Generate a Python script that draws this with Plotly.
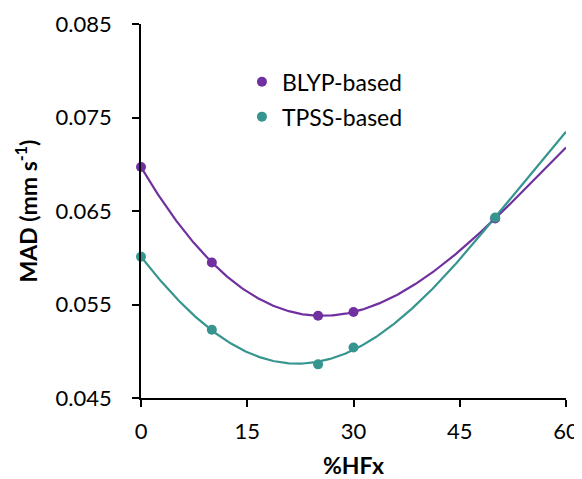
import numpy as np
import plotly.graph_objects as go

hfx = [0, 10, 25, 30, 50]
blyp = [0.0697, 0.0595, 0.0538, 0.0542, 0.0642]
tpss = [0.0601, 0.0523, 0.0486, 0.0504, 0.0643]
# trendline end values at %HFx = 60
trend_end_x = 60
blyp_end = 0.0718
tpss_end = 0.0735
series_names = ["BLYP-based", "TPSS-based"]
x_ticks = [0, 15, 30, 45, 60]
y_ticks = [0.045, 0.055, 0.065, 0.075, 0.085]

colors = ["#7030A0", "#36958F"]
font_family = "Lato"

fig = go.Figure()
xs = np.linspace(0, 60, 300)
for vals, end, col in zip([blyp, tpss], [blyp_end, tpss_end], colors):
    coef = np.polyfit(hfx + [trend_end_x], vals + [end], 4)
    fig.add_trace(go.Scatter(x=xs, y=np.polyval(coef, xs), mode="lines",
                             line=dict(color=col, width=2.2), showlegend=False,
                             hoverinfo="skip"))
for name, vals, col, grp in zip(series_names, [blyp, tpss], colors, ["a", "b"]):
    fig.add_trace(go.Scatter(x=hfx, y=vals, mode="markers", name=name,
                             legendgroup=grp, cliponaxis=False,
                             marker=dict(color=col, size=10)))

axis_common = dict(showline=True, linecolor="black", linewidth=1.5, ticks="outside",
                   ticklen=7, tickwidth=1.5, tickcolor="black", showgrid=False,
                   zeroline=False, automargin=False, ticklabeloverflow="allow",
                   tickfont=dict(family=font_family, size=22, color="black"))
fig.update_layout(
    template="none",
    width=574, height=471,
    margin=dict(l=133, r=16, t=16, b=81),
    plot_bgcolor="white", paper_bgcolor="white",
    font=dict(family=font_family, size=22, color="black"),
    xaxis=dict(range=[0, 60], tickvals=x_ticks, ticklabelstandoff=6, **axis_common,
               title=dict(text="<b>%HFx</b>", font=dict(family=font_family, size=23), standoff=19)),
    yaxis=dict(range=[0.045, 0.085], tickvals=y_ticks, tickformat=".3f", ticklabelstandoff=16,
               **axis_common,
               title=dict(text="<b>MAD (mm s<sup>-1</sup>)</b>", font=dict(family=font_family, size=23), standoff=12)),
    legend=dict(x=0.2375, y=0.903, xanchor="left", yanchor="top", bgcolor="rgba(0,0,0,0)",
                traceorder="grouped", tracegroupgap=2,
                font=dict(family=font_family, size=23)),
)
fig.write_html("out.html")
